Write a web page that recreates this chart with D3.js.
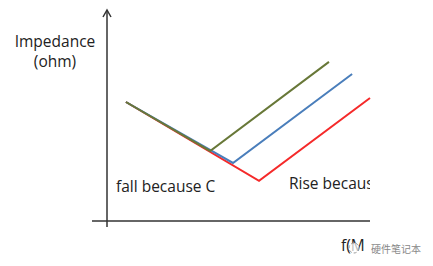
<!DOCTYPE html>
<html>
<head>
<meta charset="utf-8">
<script src="https://cdn.jsdelivr.net/npm/d3@7"></script>
<style>
  html, body { margin: 0; padding: 0; background: #fff; }
  svg { display: block; }
</style>
</head>
<body>
<div id="chart"></div>
<script>
// impedance vs frequency sketch, arbitrary units (0-100 on both axes)
const seriesNames = ['red', 'blue', 'green'];
const redPts   = [[7.2, 56.4], [57.8, 19.0], [100, 58.3]];
const bluePts  = [[7.2, 56.4], [47.9, 27.5], [93.2, 69.7]];
const greenPts = [[7.2, 56.4], [39.2, 33.2], [84.4, 75.4]];
const colors = { red: '#f52a2a', blue: '#4a7ebb', green: '#687838' };
const labels = { yTitle: ['Impedance', '(ohm)'], fall: 'fall because C', rise: 'Rise because L', xTitle: 'f(M', mark: '硬件笔记本' };

(function () {
  const W = 433, H = 266;
  const svg = d3.select('#chart').append('svg').attr('width', W).attr('height', H);

  const x = d3.scaleLinear().domain([0, 100]).range([107, 370]);
  const y = d3.scaleLinear().domain([0, 100]).range([221, 10]);
  const font = "'Open Sans', 'Noto Sans', sans-serif";

  // axes
  svg.append('line').attr('x1', 92).attr('x2', x(100)).attr('y1', y(0)).attr('y2', y(0))
    .attr('stroke', '#333').attr('stroke-width', 1.5);
  svg.append('line').attr('x1', x(0)).attr('x2', x(0)).attr('y1', y(100)).attr('y2', 227)
    .attr('stroke', '#333').attr('stroke-width', 1.5);
  // arrow head
  svg.append('path')
    .attr('d', `M${x(0) - 4},${y(100) + 7} L${x(0)},${y(100)} L${x(0) + 4},${y(100) + 7}`)
    .attr('fill', 'none').attr('stroke', '#333').attr('stroke-width', 1.5);

  const line = d3.line().x(d => x(d[0])).y(d => y(d[1]));
  const data = { red: redPts, blue: bluePts, green: greenPts };
  seriesNames.forEach(k => {
    svg.append('path').datum(data[k]).attr('d', line)
      .attr('fill', 'none').attr('stroke', colors[k]).attr('stroke-width', 2);
  });

  const fs = '15.5px';
  // y title
  svg.append('text').attr('x', 55).attr('y', 47).attr('text-anchor', 'middle')
    .style('font-family', font).style('font-size', fs).style('fill', '#222').text(labels.yTitle[0]);
  svg.append('text').attr('x', 55).attr('y', 67).attr('text-anchor', 'middle')
    .style('font-family', font).style('font-size', fs).style('fill', '#222').text(labels.yTitle[1]);

  svg.append('text').attr('x', 116).attr('y', 192)
    .style('font-family', font).style('font-size', fs).style('fill', '#222').text(labels.fall);

  // the rise label is cut off at the plot edge
  svg.append('clipPath').attr('id', 'clip').append('rect')
    .attr('x', 0).attr('y', 0).attr('width', x(100)).attr('height', H);
  svg.append('text').attr('x', 289).attr('y', 189).attr('clip-path', 'url(#clip)')
    .style('font-family', font).style('font-size', fs).style('fill', '#222').text(labels.rise);

  // x title partly covered by watermark
  svg.append('text').attr('x', 341).attr('y', 251)
    .style('font-family', font).style('font-size', fs).style('fill', '#222').text(labels.xTitle);
  svg.append('circle').attr('cx', 354).attr('cy', 248).attr('r', 5)
    .attr('fill', '#fff').attr('fill-opacity', 0.7).attr('stroke', '#999').attr('stroke-width', 1).attr('stroke-dasharray', '3 2');
  svg.append('text').attr('x', 371).attr('y', 253)
    .style('font-family', "'Noto Sans CJK SC', sans-serif").style('font-size', '10px').style('fill', '#888').text(labels.mark);
})();
</script>
</body>
</html>
